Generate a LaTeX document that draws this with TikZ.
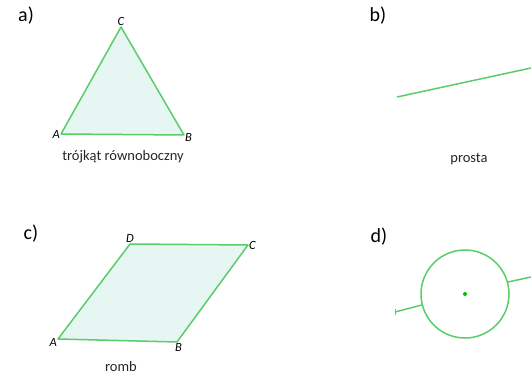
\documentclass[tikz,border=0pt]{standalone}
\usepackage{fontspec}
\setmainfont{Carlito}
\usetikzlibrary{positioning}
\definecolor{figline}{RGB}{90,205,105}
\definecolor{figfill}{RGB}{230,246,242}
\tikzset{
  figure/.style={draw=figline, line width=1.5pt, fill=figfill, line join=round},
  vertex/.style={inner sep=1pt, font=\fontsize{12.5}{12.5}\selectfont\itshape},
  caption/.style={inner sep=0pt, text=black!85, font=\fontsize{14.5}{14.5}\selectfont},
  part/.style={inner sep=0pt, font=\fontsize{20}{20}\selectfont}
}
\begin{document}
\begin{tikzpicture}[x=1pt, y=-1pt]
\useasboundingbox (0,0) rectangle (531,377);
% a) triangle
\node[part] (pa) at (26,16) {a)};
\coordinate (tA) at (61,134);
\coordinate (tB) at (184,135);
\coordinate (tC) at (121,27);
\draw[figure] (tA) -- (tB) -- (tC) -- cycle;
\node[vertex, above=0pt of tC] (lC) {C};
\node[vertex, left=0pt of tA] (lA) {A};
\node[vertex, right=0pt of tB, yshift=-2pt] (lB) {B};
\node[caption] (ta) at (123,157) {trójkąt równoboczny};
% b) line
\node[part] (pb) at (378,16) {b)};
\coordinate (pL) at (397,97);
\coordinate (pR) at (531,68);
\draw[figline, line width=1.5pt] (pL) -- (pR);
\node[caption] (tb) at (469,159) {prosta};
% c) rhombus
\node[part] (pc) at (31,234) {c)};
\coordinate (rA) at (58,339);
\coordinate (rB) at (177,342);
\coordinate (rC) at (248,245);
\coordinate (rD) at (130,244);
\draw[figure] (rA) -- (rB) -- (rC) -- (rD) -- cycle;
\node[vertex, above=0pt of rD] (lD) {D};
\node[vertex, right=0pt of rC] (lC2) {C};
\node[vertex, left=0pt of rA, yshift=-3pt] (lA2) {A};
\node[vertex, below right=0pt and -3pt of rB] (lB2) {B};
\node[caption] (tc) at (121,367) {romb};
% d) circle
\node[part] (pd) at (379,237) {d)};
\coordinate (kS) at (465,294);
\draw[figline, line width=1.5pt] (kS) circle[radius=44];
\fill[green!75!black] (kS) circle[radius=2];
\coordinate (kL) at (395,312);
\coordinate (kL1) at (422,305);
\coordinate (kR1) at (508,282);
\coordinate (kR) at (531,277);
\draw[figline, line width=1.5pt] (kL) -- (kL1);
\draw[figline, line width=1.5pt] (kR1) -- (kR);
\draw[figline, line width=0.8pt] ([yshift=-3pt]kL) -- ([yshift=3pt]kL);
\end{tikzpicture}
\end{document}
